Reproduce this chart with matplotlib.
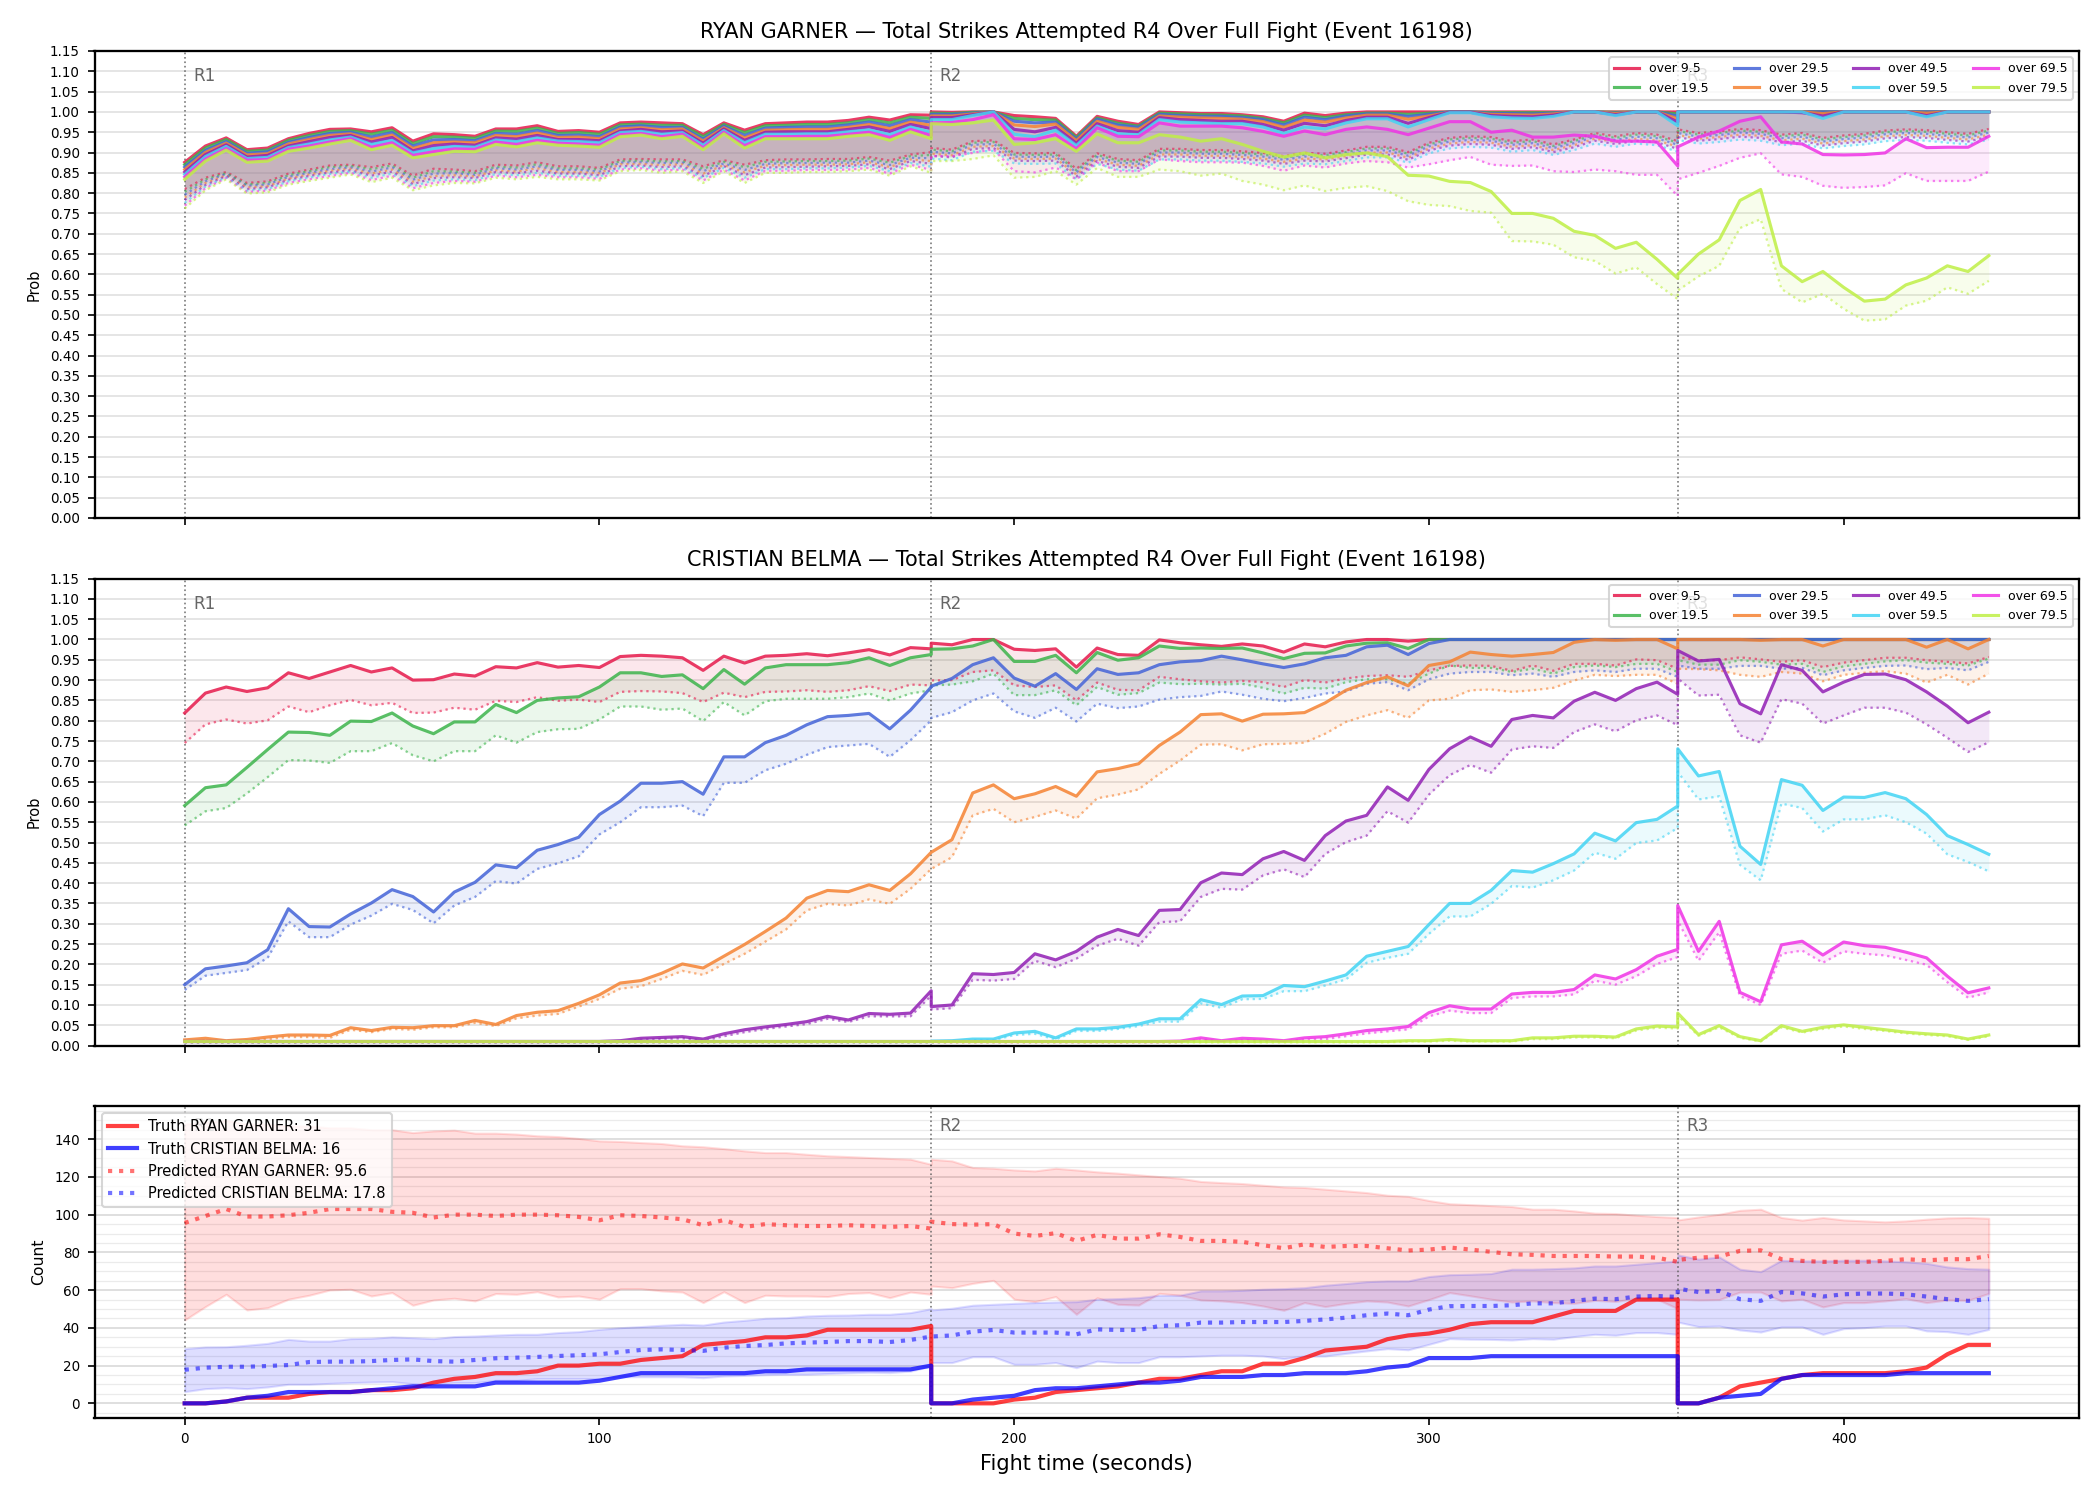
import numpy as np
import matplotlib
matplotlib.use("Agg")
import matplotlib.pyplot as plt
import matplotlib.transforms as mtransforms
from matplotlib.ticker import MultipleLocator, FormatStrFormatter

# time grid: one point every 5 s, the round boundaries (180, 360) appear twice
t_r1 = np.arange(0, 181, 5)
t_r2 = np.arange(180, 361, 5)
t_r3 = np.arange(360, 436, 5)
fight_t = np.concatenate([t_r1, t_r2, t_r3])

round_starts = [0, 180, 360]
round_names = ["R1", "R2", "R3"]

line_labels = ["over 9.5", "over 19.5", "over 29.5", "over 39.5",
               "over 49.5", "over 59.5", "over 69.5", "over 79.5"]
line_colors = ["#e6194b", "#3cb44b", "#4363d8", "#f58231",
               "#911eb4", "#42d4f4", "#f032e6", "#bfef45"]

# ---------------- RYAN GARNER (top) : solid + dotted per line ----------------
garner_solid_09 = [0.876, 0.916, 0.936, 0.907, 0.911, 0.934, 0.947, 0.957, 0.958, 0.951, 0.961, 0.928, 0.946, 0.944, 0.940, 0.958, 0.958, 0.966, 0.952, 0.954, 0.950, 0.973, 0.975, 0.973, 0.971, 0.944, 0.973, 0.955, 0.971, 0.973, 0.975, 0.975, 0.979, 0.987, 0.980, 0.993, 0.992,
                   1.0, 0.999, 1.0, 1.0, 0.991, 0.988, 0.984, 0.940, 0.989, 0.977, 0.969, 1.0, 0.998, 0.996, 0.996, 0.993, 0.988, 0.977, 0.997, 0.991, 0.997, 1.0, 1.0, 1.0, 1.0, 1.0, 1.0, 1.0, 1.0, 1.0, 1.0, 1.0, 1.0, 1.0, 1.0, 1.0, 1.0,
                   1.0, 1.0, 1.0, 1.0, 1.0, 1.0, 1.0, 1.0, 1.0, 1.0, 1.0, 1.0, 1.0, 1.0, 1.0, 1.0]
garner_solid_19 = [0.870, 0.911, 0.932, 0.903, 0.906, 0.930, 0.942, 0.952, 0.954, 0.945, 0.955, 0.922, 0.939, 0.938, 0.935, 0.953, 0.952, 0.960, 0.947, 0.949, 0.945, 0.968, 0.970, 0.967, 0.967, 0.939, 0.969, 0.949, 0.966, 0.967, 0.969, 0.969, 0.973, 0.981, 0.973, 0.987, 0.984,
                   0.997, 0.996, 0.999, 1.0, 0.984, 0.981, 0.980, 0.937, 0.985, 0.972, 0.965, 0.997, 0.995, 0.993, 0.992, 0.990, 0.984, 0.973, 0.992, 0.986, 0.993, 0.997, 0.997, 0.994, 0.997, 1.0, 1.0, 0.998, 0.998, 0.998, 0.998, 1.0, 1.0, 0.999, 1.0, 1.0, 0.995,
                   1.0, 1.0, 1.0, 1.0, 1.0, 1.0, 1.0, 1.0, 1.0, 1.0, 1.0, 1.0, 1.0, 1.0, 1.0, 1.0]
garner_solid_29 = [0.864, 0.905, 0.927, 0.898, 0.902, 0.925, 0.937, 0.947, 0.950, 0.938, 0.949, 0.916, 0.931, 0.932, 0.929, 0.947, 0.945, 0.954, 0.942, 0.943, 0.939, 0.963, 0.966, 0.962, 0.962, 0.933, 0.965, 0.942, 0.960, 0.962, 0.963, 0.963, 0.968, 0.975, 0.966, 0.981, 0.975,
                   0.994, 0.994, 0.997, 1.0, 0.977, 0.973, 0.975, 0.933, 0.982, 0.968, 0.962, 0.994, 0.991, 0.989, 0.989, 0.986, 0.981, 0.968, 0.987, 0.981, 0.990, 0.995, 0.995, 0.989, 0.994, 1.0, 1.0, 0.996, 0.996, 0.995, 0.997, 1.0, 1.0, 0.997, 1.0, 1.0, 0.990,
                   1.0, 1.0, 1.0, 1.0, 1.0, 1.0, 1.0, 1.0, 1.0, 1.0, 1.0, 1.0, 1.0, 1.0, 1.0, 1.0]
garner_solid_39 = [0.858, 0.900, 0.923, 0.894, 0.897, 0.921, 0.932, 0.942, 0.946, 0.932, 0.943, 0.910, 0.924, 0.926, 0.924, 0.942, 0.939, 0.948, 0.937, 0.938, 0.934, 0.958, 0.961, 0.956, 0.958, 0.928, 0.961, 0.936, 0.955, 0.956, 0.957, 0.957, 0.962, 0.969, 0.959, 0.975, 0.967,
                   0.990, 0.990, 0.995, 1.0, 0.968, 0.964, 0.970, 0.929, 0.977, 0.962, 0.957, 0.990, 0.987, 0.985, 0.984, 0.982, 0.976, 0.962, 0.980, 0.975, 0.985, 0.992, 0.992, 0.982, 0.990, 0.999, 0.999, 0.994, 0.993, 0.992, 0.995, 1.0, 1.0, 0.996, 1.0, 1.0, 0.983,
                   1.0, 1.0, 1.0, 1.0, 1.0, 1.0, 1.0, 0.996, 1.0, 1.0, 1.0, 1.0, 0.997, 1.0, 1.0, 1.0]
garner_solid_49 = [0.852, 0.895, 0.919, 0.889, 0.893, 0.916, 0.927, 0.937, 0.942, 0.926, 0.937, 0.904, 0.917, 0.921, 0.918, 0.936, 0.933, 0.942, 0.932, 0.932, 0.929, 0.953, 0.957, 0.951, 0.953, 0.923, 0.958, 0.930, 0.950, 0.951, 0.951, 0.951, 0.957, 0.963, 0.952, 0.969, 0.959,
                   0.986, 0.986, 0.993, 1.0, 0.957, 0.951, 0.962, 0.923, 0.971, 0.954, 0.950, 0.986, 0.981, 0.979, 0.977, 0.977, 0.969, 0.955, 0.972, 0.966, 0.979, 0.987, 0.987, 0.972, 0.986, 0.999, 0.999, 0.991, 0.989, 0.988, 0.992, 1.0, 1.0, 0.993, 1.0, 1.0, 0.975,
                   1.0, 1.0, 1.0, 1.0, 1.0, 1.0, 0.998, 0.990, 1.0, 1.0, 1.0, 1.0, 0.991, 1.0, 1.0, 1.0]
garner_solid_59 = [0.846, 0.890, 0.915, 0.885, 0.888, 0.912, 0.921, 0.931, 0.938, 0.920, 0.930, 0.899, 0.910, 0.915, 0.913, 0.931, 0.927, 0.936, 0.928, 0.927, 0.924, 0.949, 0.952, 0.945, 0.949, 0.918, 0.954, 0.924, 0.945, 0.945, 0.946, 0.946, 0.951, 0.956, 0.944, 0.963, 0.950,
                   0.981, 0.981, 0.991, 1.0, 0.945, 0.939, 0.955, 0.917, 0.965, 0.946, 0.944, 0.981, 0.975, 0.973, 0.971, 0.971, 0.963, 0.947, 0.963, 0.958, 0.973, 0.983, 0.983, 0.963, 0.981, 0.998, 0.998, 0.988, 0.985, 0.984, 0.989, 1.0, 1.0, 0.991, 1.0, 1.0, 0.966,
                   1.0, 1.0, 1.0, 1.0, 1.0, 1.0, 1.0, 0.984, 1.0, 1.0, 1.0, 1.0, 0.988, 1.0, 1.0, 1.0]
garner_solid_69 = [0.840, 0.884, 0.910, 0.881, 0.883, 0.908, 0.916, 0.926, 0.934, 0.913, 0.924, 0.893, 0.902, 0.909, 0.908, 0.926, 0.920, 0.930, 0.923, 0.921, 0.918, 0.944, 0.947, 0.939, 0.945, 0.912, 0.950, 0.917, 0.939, 0.939, 0.940, 0.940, 0.945, 0.950, 0.937, 0.957, 0.942,
                   0.973, 0.974, 0.981, 0.993, 0.934, 0.932, 0.944, 0.909, 0.961, 0.940, 0.939, 0.973, 0.965, 0.965, 0.965, 0.961, 0.952, 0.940, 0.953, 0.944, 0.957, 0.963, 0.957, 0.944, 0.960, 0.976, 0.976, 0.950, 0.955, 0.938, 0.938, 0.943, 0.940, 0.928, 0.928, 0.926, 0.867,
                   0.914, 0.938, 0.953, 0.977, 0.988, 0.926, 0.921, 0.895, 0.894, 0.895, 0.899, 0.934, 0.912, 0.913, 0.913, 0.940]
garner_solid_79 = [0.834, 0.879, 0.906, 0.876, 0.879, 0.903, 0.911, 0.921, 0.930, 0.907, 0.918, 0.887, 0.895, 0.903, 0.902, 0.920, 0.914, 0.924, 0.918, 0.916, 0.913, 0.939, 0.943, 0.934, 0.940, 0.907, 0.946, 0.911, 0.934, 0.934, 0.934, 0.934, 0.940, 0.944, 0.930, 0.951, 0.934,
                   0.971, 0.969, 0.973, 0.980, 0.920, 0.924, 0.934, 0.903, 0.946, 0.924, 0.924, 0.944, 0.938, 0.928, 0.934, 0.920, 0.903, 0.889, 0.899, 0.887, 0.895, 0.899, 0.890, 0.844, 0.842, 0.829, 0.826, 0.804, 0.750, 0.750, 0.738, 0.706, 0.696, 0.664, 0.679, 0.637, 0.590,
                   0.600, 0.650, 0.685, 0.782, 0.809, 0.621, 0.582, 0.607, 0.568, 0.534, 0.539, 0.574, 0.591, 0.621, 0.607, 0.646]

garner_dot_09 = [0.810, 0.838, 0.852, 0.825, 0.829, 0.848, 0.858, 0.868, 0.870, 0.864, 0.873, 0.843, 0.860, 0.858, 0.854, 0.870, 0.868, 0.876, 0.866, 0.866, 0.862, 0.883, 0.884, 0.883, 0.883, 0.866, 0.881, 0.870, 0.881, 0.883, 0.883, 0.884, 0.884, 0.889, 0.880, 0.895, 0.901,
                 0.911, 0.907, 0.928, 0.930, 0.899, 0.898, 0.899, 0.860, 0.898, 0.884, 0.881, 0.909, 0.909, 0.906, 0.906, 0.903, 0.899, 0.891, 0.899, 0.897, 0.905, 0.914, 0.914, 0.901, 0.924, 0.936, 0.940, 0.938, 0.928, 0.932, 0.920, 0.932, 0.948, 0.940, 0.948, 0.944, 0.928,
                 0.957, 0.948, 0.952, 0.958, 0.955, 0.944, 0.948, 0.936, 0.942, 0.946, 0.954, 0.957, 0.955, 0.950, 0.946, 0.958]
garner_dot_19 = [0.803, 0.834, 0.849, 0.821, 0.825, 0.844, 0.854, 0.864, 0.867, 0.859, 0.868, 0.838, 0.854, 0.853, 0.850, 0.865, 0.863, 0.871, 0.861, 0.861, 0.858, 0.879, 0.880, 0.878, 0.879, 0.860, 0.877, 0.864, 0.877, 0.878, 0.879, 0.879, 0.880, 0.885, 0.875, 0.891, 0.894,
                 0.907, 0.903, 0.924, 0.926, 0.895, 0.894, 0.895, 0.856, 0.894, 0.880, 0.877, 0.905, 0.905, 0.902, 0.902, 0.899, 0.895, 0.887, 0.895, 0.893, 0.901, 0.910, 0.910, 0.897, 0.920, 0.932, 0.936, 0.934, 0.924, 0.928, 0.916, 0.928, 0.944, 0.936, 0.944, 0.940, 0.924,
                 0.953, 0.944, 0.948, 0.954, 0.951, 0.940, 0.944, 0.932, 0.938, 0.942, 0.950, 0.953, 0.951, 0.946, 0.942, 0.954]
garner_dot_29 = [0.796, 0.829, 0.847, 0.818, 0.821, 0.840, 0.850, 0.859, 0.863, 0.853, 0.863, 0.833, 0.848, 0.849, 0.845, 0.861, 0.858, 0.866, 0.857, 0.857, 0.853, 0.875, 0.876, 0.874, 0.875, 0.854, 0.873, 0.857, 0.872, 0.874, 0.874, 0.875, 0.875, 0.880, 0.869, 0.887, 0.886,
                 0.902, 0.898, 0.919, 0.921, 0.890, 0.889, 0.890, 0.851, 0.889, 0.875, 0.872, 0.900, 0.900, 0.897, 0.897, 0.894, 0.890, 0.882, 0.890, 0.888, 0.896, 0.905, 0.905, 0.892, 0.915, 0.927, 0.931, 0.929, 0.919, 0.923, 0.911, 0.923, 0.939, 0.931, 0.939, 0.935, 0.919,
                 0.948, 0.939, 0.943, 0.949, 0.946, 0.935, 0.939, 0.927, 0.933, 0.937, 0.945, 0.948, 0.946, 0.941, 0.937, 0.949]
garner_dot_39 = [0.789, 0.825, 0.844, 0.814, 0.817, 0.836, 0.846, 0.855, 0.860, 0.848, 0.858, 0.828, 0.842, 0.844, 0.841, 0.856, 0.853, 0.861, 0.852, 0.852, 0.849, 0.871, 0.872, 0.869, 0.871, 0.848, 0.869, 0.851, 0.868, 0.869, 0.870, 0.870, 0.871, 0.876, 0.864, 0.883, 0.879,
                 0.897, 0.893, 0.914, 0.916, 0.885, 0.884, 0.885, 0.846, 0.884, 0.870, 0.867, 0.895, 0.895, 0.892, 0.892, 0.889, 0.885, 0.877, 0.885, 0.883, 0.891, 0.900, 0.900, 0.887, 0.910, 0.922, 0.926, 0.924, 0.914, 0.918, 0.906, 0.918, 0.934, 0.926, 0.934, 0.930, 0.914,
                 0.943, 0.934, 0.938, 0.944, 0.941, 0.930, 0.934, 0.922, 0.928, 0.932, 0.940, 0.943, 0.941, 0.936, 0.932, 0.944]
garner_dot_49 = [0.783, 0.820, 0.842, 0.810, 0.814, 0.833, 0.842, 0.851, 0.856, 0.843, 0.853, 0.822, 0.837, 0.839, 0.837, 0.852, 0.849, 0.855, 0.848, 0.848, 0.844, 0.866, 0.868, 0.864, 0.866, 0.842, 0.866, 0.844, 0.863, 0.864, 0.865, 0.866, 0.867, 0.871, 0.859, 0.879, 0.872,
                 0.892, 0.888, 0.909, 0.911, 0.880, 0.879, 0.880, 0.841, 0.879, 0.865, 0.862, 0.890, 0.890, 0.887, 0.887, 0.884, 0.880, 0.872, 0.880, 0.878, 0.886, 0.895, 0.895, 0.882, 0.905, 0.917, 0.921, 0.919, 0.909, 0.913, 0.901, 0.913, 0.929, 0.921, 0.929, 0.925, 0.909,
                 0.938, 0.929, 0.933, 0.939, 0.936, 0.925, 0.929, 0.917, 0.923, 0.927, 0.935, 0.938, 0.936, 0.931, 0.927, 0.939]
garner_dot_59 = [0.776, 0.816, 0.839, 0.806, 0.810, 0.829, 0.838, 0.847, 0.853, 0.838, 0.848, 0.817, 0.831, 0.834, 0.832, 0.847, 0.844, 0.850, 0.843, 0.843, 0.840, 0.862, 0.865, 0.859, 0.862, 0.837, 0.862, 0.838, 0.859, 0.859, 0.861, 0.861, 0.863, 0.867, 0.854, 0.874, 0.865,
                 0.885, 0.881, 0.902, 0.904, 0.873, 0.872, 0.873, 0.834, 0.872, 0.858, 0.855, 0.883, 0.883, 0.880, 0.880, 0.877, 0.873, 0.865, 0.873, 0.871, 0.879, 0.888, 0.888, 0.875, 0.898, 0.910, 0.914, 0.912, 0.902, 0.906, 0.894, 0.906, 0.922, 0.914, 0.922, 0.918, 0.902,
                 0.931, 0.922, 0.926, 0.932, 0.929, 0.918, 0.922, 0.910, 0.916, 0.920, 0.928, 0.931, 0.929, 0.924, 0.920, 0.932]
garner_dot_69 = [0.769, 0.812, 0.837, 0.803, 0.806, 0.825, 0.834, 0.842, 0.850, 0.832, 0.843, 0.812, 0.825, 0.830, 0.828, 0.843, 0.839, 0.845, 0.839, 0.839, 0.835, 0.858, 0.861, 0.855, 0.858, 0.831, 0.858, 0.831, 0.855, 0.855, 0.857, 0.857, 0.858, 0.862, 0.848, 0.870, 0.857,
                 0.891, 0.891, 0.899, 0.908, 0.854, 0.851, 0.863, 0.834, 0.875, 0.854, 0.854, 0.883, 0.879, 0.876, 0.876, 0.875, 0.867, 0.855, 0.868, 0.863, 0.873, 0.879, 0.876, 0.863, 0.871, 0.881, 0.889, 0.870, 0.867, 0.868, 0.854, 0.852, 0.858, 0.854, 0.845, 0.845, 0.793,
                 0.834, 0.850, 0.867, 0.887, 0.898, 0.846, 0.840, 0.818, 0.813, 0.815, 0.819, 0.849, 0.830, 0.830, 0.830, 0.853]
garner_dot_79 = [0.762, 0.807, 0.834, 0.799, 0.802, 0.821, 0.830, 0.838, 0.846, 0.827, 0.838, 0.807, 0.819, 0.825, 0.824, 0.838, 0.834, 0.840, 0.834, 0.834, 0.831, 0.854, 0.857, 0.850, 0.854, 0.825, 0.854, 0.825, 0.850, 0.850, 0.852, 0.852, 0.854, 0.858, 0.843, 0.866, 0.850,
                 0.879, 0.879, 0.884, 0.893, 0.838, 0.840, 0.854, 0.821, 0.862, 0.840, 0.840, 0.858, 0.854, 0.843, 0.848, 0.830, 0.821, 0.807, 0.819, 0.805, 0.813, 0.817, 0.805, 0.780, 0.771, 0.768, 0.756, 0.752, 0.682, 0.681, 0.673, 0.642, 0.633, 0.602, 0.617, 0.576, 0.539,
                 0.560, 0.595, 0.621, 0.714, 0.736, 0.564, 0.531, 0.552, 0.515, 0.486, 0.489, 0.523, 0.535, 0.568, 0.552, 0.584]

# ---------------- CRISTIAN BELMA (middle) ----------------
belma_solid_09 = [0.819, 0.868, 0.883, 0.872, 0.881, 0.918, 0.904, 0.920, 0.936, 0.920, 0.930, 0.900, 0.901, 0.915, 0.910, 0.933, 0.930, 0.943, 0.932, 0.936, 0.931, 0.958, 0.961, 0.959, 0.955, 0.924, 0.959, 0.942, 0.959, 0.961, 0.965, 0.960, 0.967, 0.975, 0.962, 0.980, 0.977,
                  0.991, 0.987, 1.0, 1.0, 0.976, 0.973, 0.977, 0.932, 0.979, 0.963, 0.961, 0.999, 0.992, 0.987, 0.983, 0.989, 0.984, 0.969, 0.989, 0.982, 0.994, 1.0, 1.0, 0.996, 1.0, 1.0, 1.0, 1.0, 1.0, 1.0, 1.0, 1.0, 1.0, 1.0, 1.0, 1.0, 1.0,
                  1.0, 1.0, 1.0, 1.0, 1.0, 1.0, 1.0, 1.0, 1.0, 1.0, 1.0, 1.0, 1.0, 1.0, 1.0, 1.0]
belma_solid_19 = [0.591, 0.635, 0.642, 0.685, 0.729, 0.772, 0.771, 0.764, 0.799, 0.798, 0.819, 0.787, 0.768, 0.797, 0.797, 0.840, 0.820, 0.850, 0.856, 0.859, 0.883, 0.918, 0.918, 0.909, 0.913, 0.879, 0.926, 0.890, 0.930, 0.938, 0.938, 0.938, 0.943, 0.955, 0.936, 0.955, 0.963,
                  0.976, 0.977, 0.984, 1.0, 0.946, 0.946, 0.961, 0.918, 0.968, 0.949, 0.955, 0.984, 0.978, 0.979, 0.978, 0.979, 0.967, 0.953, 0.966, 0.967, 0.984, 0.991, 0.992, 0.978, 1.0, 1.0, 1.0, 1.0, 1.0, 1.0, 1.0, 1.0, 1.0, 1.0, 1.0, 1.0, 1.0,
                  1.0, 1.0, 1.0, 1.0, 1.0, 1.0, 1.0, 1.0, 1.0, 1.0, 1.0, 1.0, 1.0, 1.0, 1.0, 1.0]
belma_solid_29 = [0.150, 0.189, 0.196, 0.204, 0.236, 0.337, 0.293, 0.292, 0.324, 0.351, 0.384, 0.367, 0.329, 0.378, 0.402, 0.445, 0.438, 0.481, 0.495, 0.513, 0.569, 0.602, 0.646, 0.646, 0.650, 0.619, 0.711, 0.711, 0.746, 0.764, 0.790, 0.810, 0.813, 0.818, 0.780, 0.826, 0.883,
                  0.885, 0.904, 0.938, 0.955, 0.905, 0.885, 0.916, 0.877, 0.928, 0.914, 0.918, 0.938, 0.945, 0.948, 0.959, 0.950, 0.940, 0.931, 0.940, 0.955, 0.961, 0.982, 0.986, 0.963, 0.990, 1.0, 1.0, 1.0, 1.0, 1.0, 1.0, 1.0, 1.0, 1.0, 1.0, 1.0, 1.0,
                  1.0, 1.0, 1.0, 1.0, 1.0, 1.0, 1.0, 1.0, 1.0, 1.0, 1.0, 1.0, 1.0, 1.0, 1.0, 1.0]
belma_solid_39 = [0.014, 0.018, 0.012, 0.015, 0.021, 0.026, 0.026, 0.025, 0.044, 0.037, 0.045, 0.044, 0.049, 0.049, 0.062, 0.052, 0.074, 0.082, 0.086, 0.104, 0.125, 0.154, 0.160, 0.178, 0.201, 0.191, 0.220, 0.249, 0.281, 0.314, 0.363, 0.382, 0.379, 0.396, 0.382, 0.423, 0.476,
                  0.476, 0.507, 0.622, 0.642, 0.608, 0.620, 0.638, 0.614, 0.674, 0.682, 0.694, 0.739, 0.772, 0.815, 0.817, 0.799, 0.816, 0.817, 0.820, 0.844, 0.875, 0.894, 0.908, 0.886, 0.936, 0.945, 0.969, 0.963, 0.959, 0.963, 0.968, 0.993, 1.0, 0.998, 1.0, 1.0, 0.977,
                  1.0, 1.0, 1.0, 1.0, 0.998, 1.0, 1.0, 0.984, 1.0, 1.0, 1.0, 1.0, 0.981, 1.0, 0.977, 1.0]
belma_solid_49 = [0.01, 0.01, 0.01, 0.01, 0.01, 0.01, 0.01, 0.01, 0.01, 0.01, 0.01, 0.01, 0.01, 0.01, 0.01, 0.01, 0.01, 0.01, 0.01, 0.01, 0.01, 0.012, 0.018, 0.020, 0.022, 0.016, 0.029, 0.039, 0.046, 0.052, 0.059, 0.072, 0.063, 0.079, 0.077, 0.080, 0.135,
                  0.096, 0.100, 0.177, 0.175, 0.180, 0.226, 0.211, 0.232, 0.267, 0.286, 0.271, 0.333, 0.335, 0.401, 0.425, 0.421, 0.460, 0.478, 0.456, 0.517, 0.553, 0.567, 0.637, 0.604, 0.680, 0.731, 0.760, 0.737, 0.803, 0.813, 0.807, 0.848, 0.870, 0.850, 0.879, 0.895, 0.865,
                  0.973, 0.947, 0.951, 0.842, 0.817, 0.938, 0.924, 0.871, 0.895, 0.914, 0.915, 0.901, 0.871, 0.836, 0.795, 0.821]
belma_solid_59 = [0.01, 0.01, 0.01, 0.01, 0.01, 0.01, 0.01, 0.01, 0.01, 0.01, 0.01, 0.01, 0.01, 0.01, 0.01, 0.01, 0.01, 0.01, 0.01, 0.01, 0.01, 0.01, 0.01, 0.01, 0.01, 0.01, 0.01, 0.01, 0.01, 0.01, 0.01, 0.01, 0.01, 0.01, 0.01, 0.01, 0.01,
                  0.011, 0.012, 0.016, 0.016, 0.031, 0.035, 0.019, 0.041, 0.041, 0.045, 0.053, 0.066, 0.066, 0.113, 0.101, 0.122, 0.123, 0.148, 0.145, 0.159, 0.174, 0.220, 0.232, 0.244, 0.298, 0.350, 0.350, 0.382, 0.431, 0.427, 0.448, 0.472, 0.523, 0.504, 0.549, 0.557, 0.590,
                  0.731, 0.664, 0.675, 0.491, 0.446, 0.655, 0.641, 0.579, 0.612, 0.611, 0.623, 0.608, 0.569, 0.517, 0.495, 0.471]
belma_solid_69 = [0.01, 0.01, 0.01, 0.01, 0.01, 0.01, 0.01, 0.01, 0.01, 0.01, 0.01, 0.01, 0.01, 0.01, 0.01, 0.01, 0.01, 0.01, 0.01, 0.01, 0.01, 0.01, 0.01, 0.01, 0.01, 0.01, 0.01, 0.01, 0.01, 0.01, 0.01, 0.01, 0.01, 0.01, 0.01, 0.01, 0.01,
                  0.01, 0.01, 0.01, 0.01, 0.01, 0.01, 0.01, 0.01, 0.01, 0.01, 0.01, 0.01, 0.011, 0.019, 0.012, 0.018, 0.016, 0.012, 0.019, 0.022, 0.029, 0.037, 0.041, 0.047, 0.081, 0.098, 0.090, 0.090, 0.127, 0.131, 0.131, 0.138, 0.174, 0.164, 0.187, 0.220, 0.237,
                  0.345, 0.232, 0.306, 0.131, 0.108, 0.248, 0.257, 0.223, 0.255, 0.246, 0.242, 0.230, 0.216, 0.171, 0.130, 0.142]
belma_solid_79 = [0.01, 0.01, 0.01, 0.01, 0.01, 0.01, 0.01, 0.01, 0.01, 0.01, 0.01, 0.01, 0.01, 0.01, 0.01, 0.01, 0.01, 0.01, 0.01, 0.01, 0.01, 0.01, 0.01, 0.01, 0.01, 0.01, 0.01, 0.01, 0.01, 0.01, 0.01, 0.01, 0.01, 0.01, 0.01, 0.01, 0.01,
                  0.01, 0.01, 0.01, 0.01, 0.01, 0.01, 0.01, 0.01, 0.01, 0.01, 0.01, 0.01, 0.01, 0.01, 0.01, 0.01, 0.01, 0.01, 0.01, 0.01, 0.01, 0.01, 0.01, 0.012, 0.012, 0.015, 0.012, 0.012, 0.012, 0.019, 0.019, 0.023, 0.023, 0.021, 0.041, 0.048, 0.046,
                  0.080, 0.027, 0.049, 0.022, 0.012, 0.049, 0.035, 0.045, 0.051, 0.045, 0.039, 0.033, 0.029, 0.026, 0.016, 0.026]

belma_dot_09 = [0.745, 0.791, 0.803, 0.793, 0.801, 0.835, 0.821, 0.838, 0.851, 0.838, 0.844, 0.819, 0.820, 0.832, 0.827, 0.849, 0.846, 0.858, 0.849, 0.852, 0.846, 0.871, 0.873, 0.872, 0.868, 0.846, 0.869, 0.858, 0.871, 0.872, 0.875, 0.871, 0.875, 0.885, 0.873, 0.889, 0.887,
                0.899, 0.900, 0.920, 0.924, 0.887, 0.883, 0.887, 0.850, 0.894, 0.876, 0.875, 0.908, 0.902, 0.897, 0.894, 0.898, 0.895, 0.883, 0.900, 0.894, 0.904, 0.910, 0.912, 0.908, 0.924, 0.935, 0.936, 0.935, 0.923, 0.936, 0.923, 0.940, 0.940, 0.936, 0.951, 0.949, 0.928,
                0.957, 0.949, 0.949, 0.956, 0.951, 0.945, 0.949, 0.932, 0.943, 0.949, 0.955, 0.955, 0.949, 0.945, 0.941, 0.957]
belma_dot_19 = [0.542, 0.577, 0.585, 0.621, 0.661, 0.703, 0.702, 0.696, 0.725, 0.725, 0.745, 0.715, 0.700, 0.725, 0.725, 0.764, 0.746, 0.772, 0.779, 0.780, 0.803, 0.835, 0.835, 0.827, 0.830, 0.799, 0.846, 0.813, 0.848, 0.854, 0.854, 0.854, 0.858, 0.867, 0.850, 0.867, 0.875,
                0.887, 0.889, 0.897, 0.916, 0.863, 0.863, 0.875, 0.838, 0.883, 0.864, 0.868, 0.894, 0.890, 0.891, 0.889, 0.891, 0.881, 0.867, 0.881, 0.879, 0.895, 0.902, 0.902, 0.891, 0.916, 0.936, 0.930, 0.930, 0.920, 0.928, 0.916, 0.932, 0.936, 0.932, 0.940, 0.940, 0.920,
                0.949, 0.938, 0.938, 0.949, 0.945, 0.938, 0.940, 0.920, 0.934, 0.940, 0.946, 0.949, 0.943, 0.940, 0.936, 0.953]
belma_dot_29 = [0.137, 0.172, 0.179, 0.186, 0.216, 0.306, 0.267, 0.267, 0.298, 0.320, 0.349, 0.334, 0.301, 0.345, 0.366, 0.405, 0.399, 0.435, 0.449, 0.466, 0.520, 0.550, 0.587, 0.587, 0.591, 0.565, 0.647, 0.647, 0.678, 0.694, 0.716, 0.735, 0.739, 0.743, 0.711, 0.752, 0.801,
                0.807, 0.821, 0.850, 0.867, 0.823, 0.807, 0.832, 0.798, 0.842, 0.831, 0.835, 0.852, 0.858, 0.861, 0.872, 0.864, 0.854, 0.848, 0.856, 0.867, 0.872, 0.891, 0.895, 0.875, 0.902, 0.916, 0.920, 0.920, 0.912, 0.916, 0.908, 0.920, 0.924, 0.920, 0.928, 0.928, 0.908,
                0.936, 0.928, 0.928, 0.935, 0.935, 0.928, 0.930, 0.912, 0.924, 0.930, 0.935, 0.936, 0.927, 0.930, 0.924, 0.945]
belma_dot_39 = [0.010, 0.012, 0.011, 0.012, 0.016, 0.021, 0.021, 0.019, 0.039, 0.033, 0.041, 0.039, 0.045, 0.045, 0.056, 0.048, 0.067, 0.074, 0.078, 0.096, 0.115, 0.140, 0.146, 0.164, 0.184, 0.174, 0.201, 0.226, 0.256, 0.286, 0.333, 0.349, 0.345, 0.360, 0.349, 0.386, 0.435,
                0.435, 0.464, 0.567, 0.583, 0.550, 0.563, 0.579, 0.559, 0.609, 0.618, 0.631, 0.669, 0.702, 0.741, 0.742, 0.727, 0.742, 0.743, 0.746, 0.768, 0.797, 0.813, 0.826, 0.807, 0.850, 0.854, 0.875, 0.877, 0.871, 0.875, 0.881, 0.899, 0.913, 0.910, 0.913, 0.913, 0.891,
                0.928, 0.927, 0.924, 0.913, 0.908, 0.920, 0.916, 0.897, 0.913, 0.918, 0.922, 0.916, 0.894, 0.913, 0.889, 0.916]
belma_dot_49 = [0.008, 0.008, 0.008, 0.008, 0.008, 0.008, 0.008, 0.008, 0.008, 0.008, 0.008, 0.008, 0.008, 0.008, 0.008, 0.008, 0.008, 0.008, 0.008, 0.008, 0.008, 0.010, 0.014, 0.016, 0.018, 0.012, 0.023, 0.033, 0.041, 0.047, 0.053, 0.066, 0.058, 0.072, 0.072, 0.072, 0.123,
                0.089, 0.092, 0.162, 0.160, 0.164, 0.209, 0.193, 0.214, 0.246, 0.263, 0.246, 0.304, 0.306, 0.366, 0.386, 0.384, 0.419, 0.434, 0.415, 0.472, 0.501, 0.517, 0.577, 0.549, 0.618, 0.666, 0.691, 0.672, 0.729, 0.737, 0.733, 0.772, 0.791, 0.774, 0.801, 0.813, 0.789,
                0.904, 0.862, 0.864, 0.764, 0.746, 0.853, 0.842, 0.793, 0.813, 0.832, 0.832, 0.820, 0.791, 0.758, 0.723, 0.747]
belma_dot_59 = [0.008, 0.008, 0.008, 0.008, 0.008, 0.008, 0.008, 0.008, 0.008, 0.008, 0.008, 0.008, 0.008, 0.008, 0.008, 0.008, 0.008, 0.008, 0.008, 0.008, 0.008, 0.008, 0.008, 0.008, 0.008, 0.008, 0.008, 0.008, 0.008, 0.008, 0.008, 0.008, 0.008, 0.008, 0.008, 0.008, 0.008,
                0.008, 0.009, 0.013, 0.013, 0.026, 0.029, 0.015, 0.036, 0.036, 0.041, 0.048, 0.059, 0.059, 0.104, 0.093, 0.114, 0.115, 0.134, 0.134, 0.148, 0.163, 0.204, 0.216, 0.226, 0.275, 0.318, 0.318, 0.349, 0.393, 0.389, 0.407, 0.431, 0.475, 0.460, 0.499, 0.505, 0.536,
                0.674, 0.606, 0.614, 0.445, 0.407, 0.596, 0.585, 0.527, 0.557, 0.557, 0.567, 0.550, 0.522, 0.471, 0.452, 0.429]
belma_dot_69 = [0.008, 0.008, 0.008, 0.008, 0.008, 0.008, 0.008, 0.008, 0.008, 0.008, 0.008, 0.008, 0.008, 0.008, 0.008, 0.008, 0.008, 0.008, 0.008, 0.008, 0.008, 0.008, 0.008, 0.008, 0.008, 0.008, 0.008, 0.008, 0.008, 0.008, 0.008, 0.008, 0.008, 0.008, 0.008, 0.008, 0.008,
                0.008, 0.008, 0.008, 0.008, 0.008, 0.008, 0.008, 0.008, 0.008, 0.008, 0.008, 0.008, 0.008, 0.015, 0.010, 0.013, 0.012, 0.010, 0.015, 0.016, 0.023, 0.030, 0.035, 0.040, 0.072, 0.086, 0.080, 0.080, 0.117, 0.121, 0.121, 0.126, 0.160, 0.150, 0.171, 0.201, 0.218,
                0.308, 0.209, 0.279, 0.122, 0.100, 0.226, 0.234, 0.204, 0.232, 0.226, 0.222, 0.211, 0.199, 0.156, 0.118, 0.131]
belma_dot_79 = [0.008, 0.008, 0.008, 0.008, 0.008, 0.008, 0.008, 0.008, 0.008, 0.008, 0.008, 0.008, 0.008, 0.008, 0.008, 0.008, 0.008, 0.008, 0.008, 0.008, 0.008, 0.008, 0.008, 0.008, 0.008, 0.008, 0.008, 0.008, 0.008, 0.008, 0.008, 0.008, 0.008, 0.008, 0.008, 0.008, 0.008,
                0.008, 0.008, 0.008, 0.008, 0.008, 0.008, 0.008, 0.008, 0.008, 0.008, 0.008, 0.008, 0.008, 0.008, 0.008, 0.008, 0.008, 0.008, 0.008, 0.008, 0.008, 0.008, 0.008, 0.010, 0.010, 0.012, 0.010, 0.010, 0.010, 0.016, 0.016, 0.020, 0.020, 0.018, 0.037, 0.044, 0.042,
                0.074, 0.024, 0.045, 0.019, 0.010, 0.045, 0.032, 0.041, 0.047, 0.041, 0.036, 0.030, 0.026, 0.023, 0.014, 0.023]

# ---------------- counts (bottom) ----------------
truth_garner = [0, 0, 1, 3, 3, 3, 5, 6, 6, 7, 7, 8, 11, 13, 14, 16, 16, 17, 20, 20, 21, 21, 23, 24, 25, 31, 32, 33, 35, 35, 36, 39, 39, 39, 39, 39, 41,
                0, 0, 0, 0, 2, 3, 6, 7, 8, 9, 11, 13, 13, 15, 17, 17, 21, 21, 24, 28, 29, 30, 34, 36, 37, 39, 42, 43, 43, 43, 46, 49, 49, 49, 55, 55, 55,
                0, 0, 3, 9, 11, 13, 15, 16, 16, 16, 16, 17, 19, 26, 31, 31]
truth_belma = [0, 0, 1, 3, 4, 6, 6, 6, 6, 7, 8, 9, 9, 9, 9, 11, 11, 11, 11, 11, 12, 14, 16, 16, 16, 16, 16, 16, 17, 17, 18, 18, 18, 18, 18, 18, 20,
               0, 0, 2, 3, 4, 7, 8, 8, 9, 10, 11, 11, 12, 14, 14, 14, 15, 15, 16, 16, 16, 17, 19, 20, 24, 24, 24, 25, 25, 25, 25, 25, 25, 25, 25, 25, 25,
               0, 0, 3, 4, 5, 13, 15, 15, 15, 15, 15, 16, 16, 16, 16, 16]
pred_garner = [95.6, 99.3, 103.0, 99.0, 99.0, 99.7, 101.0, 103.0, 103.0, 103.0, 101.5, 101.0, 98.5, 100.0, 100.0, 99.3, 100.0, 100.0, 99.7, 98.8, 97.0, 99.7, 99.3, 98.5, 97.6, 94.4, 97.2, 93.5, 95.0, 94.4, 94.0, 94.0, 94.4, 94.0, 93.5, 94.0, 92.6,
               96.3, 95.0, 94.7, 95.0, 90.0, 88.7, 90.2, 86.1, 89.3, 87.3, 87.3, 89.6, 88.2, 86.1, 86.1, 85.6, 83.8, 82.2, 84.3, 82.9, 83.4, 83.4, 82.2, 81.0, 81.5, 82.6, 81.5, 80.3, 79.0, 78.7, 78.1, 78.1, 78.1, 77.8, 77.8, 77.2, 75.0,
               76.0, 77.2, 77.8, 80.8, 81.1, 76.4, 75.5, 75.0, 75.0, 75.0, 75.5, 76.4, 75.8, 76.4, 76.4, 78.1]
pred_belma = [17.8, 18.9, 19.4, 19.4, 19.8, 20.3, 21.9, 22.1, 22.1, 22.4, 23.0, 23.3, 22.4, 22.1, 23.0, 23.9, 24.2, 24.6, 25.1, 25.5, 26.0, 27.2, 28.3, 28.6, 28.3, 27.8, 29.5, 30.4, 30.9, 31.8, 32.2, 32.5, 33.0, 33.0, 32.5, 33.6, 35.4,
              35.4, 36.0, 38.0, 38.9, 37.5, 37.5, 37.5, 36.6, 39.2, 38.9, 38.9, 41.0, 41.4, 42.8, 42.8, 43.1, 43.1, 43.1, 43.7, 44.5, 45.4, 46.7, 47.6, 46.7, 49.7, 51.5, 51.6, 51.6, 52.0, 53.0, 53.0, 54.3, 55.5, 55.2, 56.6, 56.9, 56.4,
              60.8, 59.0, 59.6, 55.2, 54.3, 59.0, 58.3, 56.6, 57.8, 58.2, 58.2, 57.8, 56.6, 55.2, 54.3, 55.2]
garner_hi = [148, 149, 150, 148, 148, 147, 147, 146, 146, 145, 145, 143.5, 144.4, 144.8, 143.2, 143.2, 142.7, 141.8, 141.4, 140.4, 139.1, 138.8, 138.2, 137.7, 136.5, 136.0, 135.0, 133.8, 132.9, 132.9, 132.0, 131.2, 130.8, 130.3, 129.8, 129.4, 126.7,
             129.4, 128.5, 125.0, 124.6, 123.7, 123.2, 124.6, 123.7, 122.7, 122.0, 121.1, 120.2, 119.3, 117.6, 117.0, 116.5, 115.6, 114.7, 114.4, 113.5, 112.6, 111.7, 110.3, 109.7, 107.5, 105.8, 105.3, 104.8, 104.3, 102.9, 102.9, 102.0, 100.8, 100.6, 99.7, 99.0, 98.5,
             97.2, 98.8, 100.2, 102.3, 102.9, 98.5, 97.1, 98.5, 97.2, 96.7, 96.2, 96.7, 97.6, 98.3, 98.5, 98.1]
garner_lo = [44.2, 51.3, 57.8, 49.5, 50.7, 55.2, 57.3, 60.1, 60.5, 56.9, 58.7, 52.0, 54.8, 55.7, 54.3, 58.2, 57.8, 59.2, 56.4, 56.9, 55.2, 60.8, 60.8, 59.6, 59.0, 53.4, 59.2, 53.4, 57.3, 56.9, 56.9, 56.6, 58.2, 58.7, 56.0, 59.0, 57.8,
             62.2, 61.3, 63.6, 65.2, 55.2, 53.9, 56.6, 47.2, 56.0, 52.5, 52.1, 58.3, 57.3, 54.8, 54.3, 53.4, 51.6, 49.3, 53.4, 51.3, 53.0, 54.3, 53.7, 51.6, 55.0, 58.7, 57.0, 55.2, 53.7, 54.3, 53.4, 53.0, 54.6, 54.0, 55.7, 55.2, 50.2,
             55.2, 54.8, 55.0, 59.0, 59.0, 54.3, 55.2, 51.1, 53.4, 53.4, 54.3, 55.5, 53.4, 54.8, 54.6, 58.3]
belma_hi = [29.0, 29.9, 30.0, 30.8, 31.8, 33.9, 33.0, 33.0, 34.3, 34.5, 35.2, 34.8, 34.3, 35.4, 35.7, 36.2, 36.6, 36.6, 37.5, 38.0, 39.2, 40.1, 40.7, 41.4, 41.9, 41.5, 43.1, 44.0, 45.1, 45.4, 46.3, 46.7, 46.8, 47.2, 47.2, 48.1, 50.2,
            49.5, 50.4, 52.0, 52.5, 53.0, 53.4, 53.7, 53.9, 55.2, 55.5, 56.0, 57.3, 57.3, 59.6, 59.6, 59.9, 60.5, 60.8, 61.3, 62.6, 63.5, 64.5, 64.9, 64.9, 67.2, 68.2, 68.4, 68.8, 71.1, 71.1, 71.4, 71.8, 72.8, 72.8, 73.7, 74.6, 75.5,
            78.7, 76.4, 77.6, 71.1, 69.8, 75.8, 75.5, 75.5, 75.8, 75.8, 75.5, 75.0, 74.2, 72.3, 71.4, 71.1]
belma_lo = [6.2, 7.8, 8.3, 7.8, 8.7, 10.1, 10.1, 10.6, 11.0, 11.3, 11.5, 10.4, 10.1, 11.0, 11.0, 12.2, 12.2, 13.1, 13.1, 13.1, 13.1, 14.1, 14.1, 14.1, 14.1, 13.6, 14.5, 14.8, 15.2, 15.4, 15.4, 15.8, 16.2, 16.5, 16.3, 17.1, 19.8,
            21.6, 21.6, 24.7, 24.7, 20.7, 20.7, 21.6, 18.9, 22.4, 21.6, 21.6, 24.7, 24.7, 25.1, 25.5, 25.5, 25.1, 23.7, 25.1, 25.1, 26.5, 27.8, 29.0, 28.4, 31.3, 34.3, 34.0, 33.9, 33.6, 34.3, 34.0, 35.4, 36.6, 36.1, 37.5, 37.5, 36.6,
            43.1, 40.7, 41.0, 38.9, 37.8, 40.5, 40.5, 36.6, 39.6, 40.1, 41.0, 41.0, 38.4, 38.0, 36.6, 39.2]

garner_solid = [garner_solid_09, garner_solid_19, garner_solid_29, garner_solid_39,
                garner_solid_49, garner_solid_59, garner_solid_69, garner_solid_79]
garner_dot = [garner_dot_09, garner_dot_19, garner_dot_29, garner_dot_39,
              garner_dot_49, garner_dot_59, garner_dot_69, garner_dot_79]
belma_solid = [belma_solid_09, belma_solid_19, belma_solid_29, belma_solid_39,
               belma_solid_49, belma_solid_59, belma_solid_69, belma_solid_79]
belma_dot = [belma_dot_09, belma_dot_19, belma_dot_29, belma_dot_39,
             belma_dot_49, belma_dot_59, belma_dot_69, belma_dot_79]


def mark_rounds(ax):
    trans = mtransforms.blended_transform_factory(ax.transData, ax.transAxes)
    for rs, rn in zip(round_starts, round_names):
        ax.axvline(rs, color="0.35", ls=":", lw=0.8, alpha=0.8, zorder=1)
        ax.text(rs + 2, 0.965, rn, transform=trans, va="top", ha="left",
                fontsize=8, color="0.4")


def prob_panel(ax, solids, dots, title):
    for s, d, c, lab in zip(solids, dots, line_colors, line_labels):
        ax.fill_between(fight_t, d, s, color=c, alpha=0.1, lw=0)
        ax.plot(fight_t, s, color=c, lw=1.5, alpha=0.85, label=lab)
        ax.plot(fight_t, d, color=c, lw=1.1, ls=":", alpha=0.6)
    ax.set_ylim(0, 1.15)
    ax.yaxis.set_major_locator(MultipleLocator(0.05))
    ax.yaxis.set_major_formatter(FormatStrFormatter("%.2f"))
    ax.grid(axis="y", color="0.88", lw=0.8)
    ax.set_axisbelow(True)
    ax.set_ylabel("Prob", fontsize=7)
    ax.set_title(title, fontsize=10)
    mark_rounds(ax)
    ax.legend(loc="upper right", ncol=4, fontsize=6)


fig, (ax1, ax2, ax3) = plt.subplots(3, 1, figsize=(14, 10), dpi=150, sharex=True,
                                    gridspec_kw={"height_ratios": [3, 3, 2]})
fig.subplots_adjust(left=0.045, right=0.99, top=0.966, bottom=0.055, hspace=0.146)

prob_panel(ax1, garner_solid, garner_dot,
           "RYAN GARNER \u2014 Total Strikes Attempted R4 Over Full Fight (Event 16198)")
prob_panel(ax2, belma_solid, belma_dot,
           "CRISTIAN BELMA \u2014 Total Strikes Attempted R4 Over Full Fight (Event 16198)")

# bottom: truth vs predicted counts
ax3.fill_between(fight_t, garner_lo, garner_hi, color="red", alpha=0.13, lw=1)
ax3.fill_between(fight_t, belma_lo, belma_hi, color="blue", alpha=0.13, lw=1)
ax3.plot(fight_t, truth_garner, color="red", lw=2, alpha=0.75,
         label=f"Truth RYAN GARNER: {truth_garner[-1]}")
ax3.plot(fight_t, truth_belma, color="blue", lw=2, alpha=0.75,
         label=f"Truth CRISTIAN BELMA: {truth_belma[-1]}")
ax3.plot(fight_t, pred_garner, color="red", lw=2, ls=":", alpha=0.55,
         label=f"Predicted RYAN GARNER: {pred_garner[0]}")
ax3.plot(fight_t, pred_belma, color="blue", lw=2, ls=":", alpha=0.55,
         label=f"Predicted CRISTIAN BELMA: {pred_belma[0]}")
ax3.yaxis.set_major_locator(MultipleLocator(20))
ax3.yaxis.set_minor_locator(MultipleLocator(5))
ax3.tick_params(axis="y", which="minor", length=0)
ax3.grid(axis="y", which="major", color="0.85", lw=0.8)
ax3.grid(axis="y", which="minor", color="0.92", lw=0.6)
ax3.set_axisbelow(True)
ax3.set_ylabel("Count", fontsize=7.5)
ax3.set_xlabel("Fight time (seconds)", fontsize=10)
mark_rounds(ax3)
ax3.legend(loc="upper left", fontsize=7)

for ax in (ax1, ax2, ax3):
    ax.tick_params(labelsize=6.5)
    for sp in ax.spines.values():
        sp.set_linewidth(1.1)

fig.savefig("out.png", dpi=150)
